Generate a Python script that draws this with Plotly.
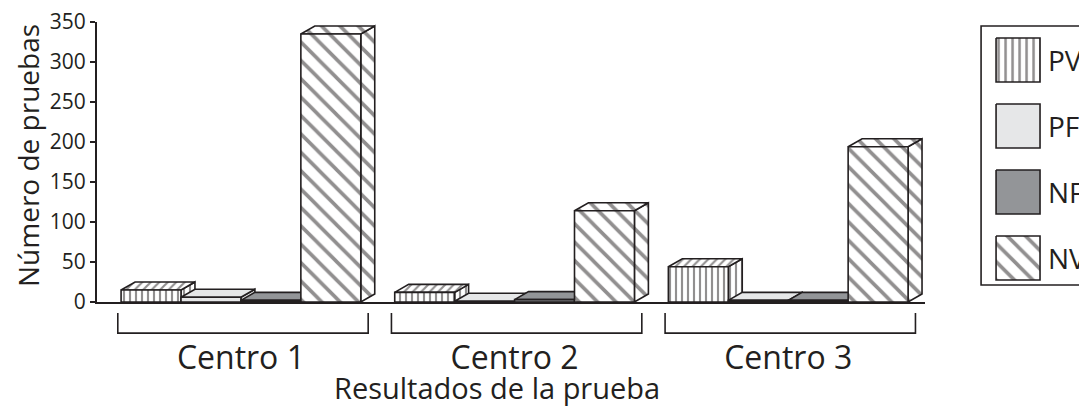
import plotly.graph_objects as go

# ---------------- data ----------------
groups = ["Centro 1", "Centro 2", "Centro 3"]
series = ["PV", "PF", "NF", "NV"]
pv = [15, 12, 44]
pf = [6, 1, 2]
nf = [2, 3, 2]
nv = [335, 114, 194]
y_ticks = [0, 50, 100, 150, 200, 250, 300, 350]
x_title = "Resultados de la prueba"
y_title = "Número de pruebas"

values = {"PV": pv, "PF": pf, "NF": nf, "NV": nv}

# ---------------- styles ----------------
INK = "#231f20"
FONT = "Open Sans"
styles = {
    "PV": dict(color="white", front="|", top="/", side="|", size=6, solidity=0.36),
    "PF": dict(color="#e6e7e8", front="", top="", side="", size=6, solidity=0.2),
    "NF": dict(color="#939598", front="", top="", side="", size=6, solidity=0.2),
    "NV": dict(color="white", front="\\", top="\\", side="\\", size=13, solidity=0.28),
}

group_pos = [1, 2, 3]          # category positions on the x axis
bar_w = 0.219                  # width of one bar (x units)
depth_x = 0.051                # 3-D depth offset (x units)
depth_y = 10                   # 3-D depth offset (y units)
x_range = [0.474, 3.5]
y_range = [0, 350]

fig = go.Figure()


def face(xs, ys, st, shape, xa="x", ya="y", size=None):
    pat = dict(shape=shape, fgcolor=INK, bgcolor=st["color"],
               size=size or st["size"], solidity=st["solidity"])
    return go.Scatter(
        x=xs + [xs[0]], y=ys + [ys[0]], mode="lines", fill="toself",
        fillcolor=st["color"], fillpattern=pat,
        line=dict(color=INK, width=1.6), showlegend=False,
        hoverinfo="skip", xaxis=xa, yaxis=ya,
    )


for g, gx in enumerate(group_pos):
    for i, s in enumerate(series):
        v = values[s][g]
        st = styles[s]
        x0 = gx + (i - 2) * bar_w
        x1 = x0 + bar_w
        # side face
        fig.add_trace(face([x1, x1 + depth_x, x1 + depth_x, x1],
                           [0, depth_y, v + depth_y, v], st, st["side"]))
        # top face
        fig.add_trace(face([x0, x0 + depth_x, x1 + depth_x, x1],
                           [v, v + depth_y, v + depth_y, v], st, st["top"]))
        # front face
        fig.add_trace(face([x0, x1, x1, x0], [0, 0, v, v], st, st["front"]))

# brackets under each group
shapes = []
for gx in group_pos:
    a = gx - 0.45
    b = gx + 0.465
    shapes.append(dict(type="path", xref="x", yref="paper",
                       path=f"M{a},-0.039 L{a},-0.111 L{b},-0.111 L{b},-0.039",
                       line=dict(color=INK, width=1.6)))

# legend (manual, large swatches)
shapes.append(dict(type="rect", xref="paper", yref="paper",
                   x0=0.893, x1=1.05, y0=0.0607, y1=0.9857,
                   line=dict(color=INK, width=1.6), fillcolor="rgba(0,0,0,0)"))
annotations = []
for i, s in enumerate(series):
    st = styles[s]
    top = 12 + 66 * i
    fig.add_trace(face([15, 59, 59, 15], [top, top, top + 44, top + 44], st,
                       st["front"], xa="x2", ya="y2",
                       size=7 if s == "PV" else None))
    annotations.append(dict(x=65, y=top + 22, xref="x2", yref="y2", text=s,
                            showarrow=False, xanchor="left", yanchor="middle",
                            font=dict(family=FONT, size=28, color=INK)))

# axis titles (placed as in the reference)
annotations.append(dict(x=0.404, y=-0.307, xref="paper", yref="paper",
                        text=x_title, showarrow=False, xanchor="center",
                        yanchor="middle",
                        font=dict(family=FONT, size=29, color=INK)))
annotations.append(dict(x=-0.0697, y=0.525, xref="paper", yref="paper",
                        text=y_title, showarrow=False, textangle=-90,
                        xanchor="center", yanchor="middle",
                        font=dict(family=FONT, size=28, color=INK)))

# the page body has an 8px default margin, so the figure is 8px smaller
fig.update_layout(
    width=1079, height=398,
    margin=dict(l=89, r=0, t=14, b=104, autoexpand=False),
    paper_bgcolor="white", plot_bgcolor="white",
    font=dict(family=FONT, color=INK),
    shapes=shapes, annotations=annotations,
    xaxis=dict(domain=[0, 0.8364], range=x_range, showline=True,
               linecolor=INK, linewidth=2, tickvals=group_pos, ticktext=groups,
               ticks="", ticklabelstandoff=27, tickfont=dict(size=32),
               ticklabeloverflow="allow",
               showgrid=False, zeroline=False, fixedrange=True,
               automargin=False),
    yaxis=dict(range=y_range, tickvals=y_ticks, ticks="outside", ticklen=5,
               tickwidth=1.5, tickcolor=INK, showline=True, linecolor=INK,
               linewidth=2, tickfont=dict(size=21), showgrid=False,
               ticklabeloverflow="allow",
               zeroline=False, fixedrange=True, automargin=False),
    xaxis2=dict(domain=[0.893, 1], range=[0, 106], visible=False,
                anchor="y2", fixedrange=True),
    yaxis2=dict(domain=[0.0607, 0.9857], range=[259, 0], visible=False,
                anchor="x2", fixedrange=True),
)

fig.write_html("out.html")
